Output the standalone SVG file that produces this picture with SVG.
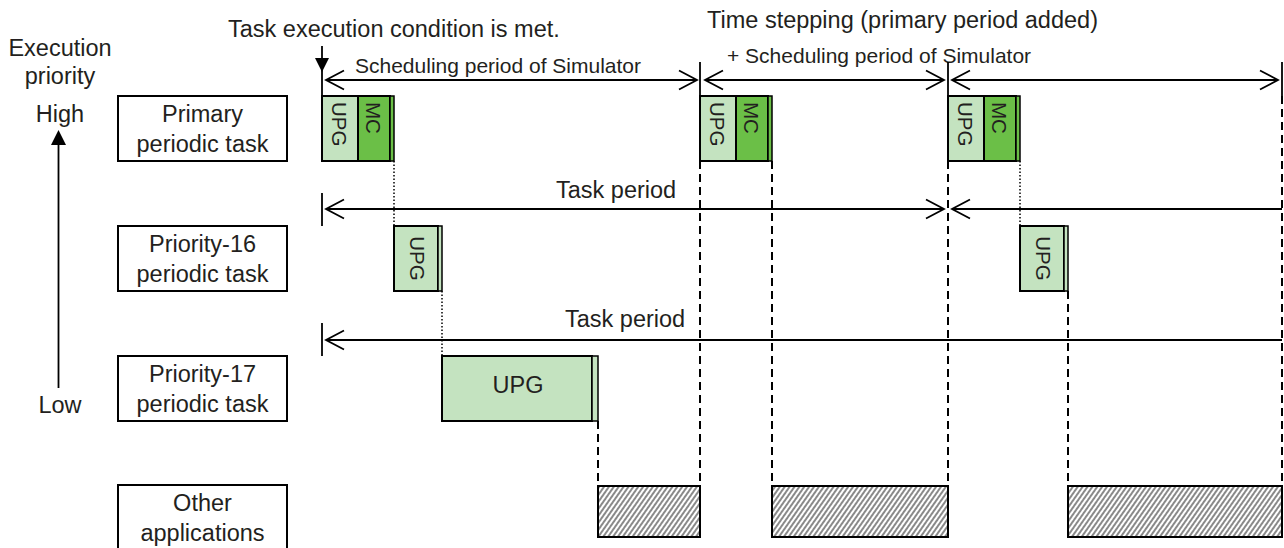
<svg xmlns="http://www.w3.org/2000/svg" width="1284" height="548" viewBox="0 0 1284 548">
<defs>
<pattern id="hatch" width="4" height="4" patternUnits="userSpaceOnUse" patternTransform="rotate(35)">
<rect width="4" height="4" fill="#fff"/>
<line x1="2" y1="0" x2="2" y2="4" stroke="#4a4a4a" stroke-width="1.3"/>
</pattern>
<style>
.t{font-family:"Liberation Sans",Arial,sans-serif;fill:#231f20}
.big{font-size:23.5px}
.mid{font-size:21px}
.sm{font-size:20.5px}
.c{text-anchor:middle}
.box{fill:#fff;stroke:#000;stroke-width:2}
.lg{fill:#c4e3c0;stroke:#000;stroke-width:2}
.dg{fill:#6bbf47;stroke:#000;stroke-width:2}
.lgs{fill:#c4e3c0;stroke:#000;stroke-width:1.5}
.dgs{fill:#6bbf47;stroke:#000;stroke-width:1.5}
.ln{stroke:#000;stroke-width:1.8;fill:none}
.ln2{stroke:#000;stroke-width:2.2;fill:none}
.dash{stroke:#000;stroke-width:2;stroke-dasharray:8 5;fill:none}
.dot{stroke:#000;stroke-width:1.5;stroke-dasharray:1.5 2;fill:none}
.hatch{fill:url(#hatch);stroke:#000;stroke-width:2}
</style>
</defs>
<rect width="1284" height="548" fill="#fff"/>

<!-- priority axis -->
<g id="axis">
<text class="t big c" x="60" y="56">Execution</text>
<text class="t big c" x="60" y="84">priority</text>
<text class="t big c" x="60" y="122">High</text>
<polygon points="58.5,130 51,145 66,145" fill="#000"/>
<line class="ln" x1="58.5" y1="144" x2="58.5" y2="388"/>
<text class="t big c" x="60" y="413">Low</text>
</g>

<!-- row labels -->
<g id="node-primary">
<rect class="box" x="118" y="96" width="169" height="65"/>
<text class="t big c" x="202.5" y="122">Primary</text>
<text class="t big c" x="202.5" y="152">periodic task</text>
</g>
<g id="node-priority16">
<rect class="box" x="118" y="226" width="169" height="65"/>
<text class="t big c" x="202.5" y="252">Priority-16</text>
<text class="t big c" x="202.5" y="282">periodic task</text>
</g>
<g id="node-priority17">
<rect class="box" x="118" y="356" width="169" height="65"/>
<text class="t big c" x="202.5" y="382">Priority-17</text>
<text class="t big c" x="202.5" y="412">periodic task</text>
</g>
<g id="node-other">
<rect class="box" x="118" y="485" width="169" height="66"/>
<text class="t big c" x="202.5" y="511">Other</text>
<text class="t big c" x="202.5" y="541">applications</text>
</g>

<!-- top annotations -->
<g id="annotations">
<text class="t big" x="228" y="37">Task execution condition is met.</text>
<text class="t big" x="707" y="28">Time stepping (primary period added)</text>
<text class="t mid" x="355" y="73">Scheduling period of Simulator</text>
<text class="t mid" x="727" y="63">+ Scheduling period of Simulator</text>
<text class="t big" x="556" y="198">Task period</text>
<text class="t big" x="565" y="327">Task period</text>
</g>

<!-- connectors -->
<g id="connectors">
<line class="ln" x1="322" y1="46" x2="322" y2="96"/>
<polygon points="315,58 329,58 322,72" fill="#000"/>
<line class="ln" x1="326" y1="80" x2="697" y2="80"/>
<polyline class="ln" points="344,70.5 326,80 344,89.5"/>
<polyline class="ln" points="679,70.5 697,80 679,89.5"/>
<line class="ln" x1="700" y1="62" x2="700" y2="96"/>
<line class="ln" x1="705" y1="80" x2="944" y2="80"/>
<polyline class="ln" points="723,70.5 705,80 723,89.5"/>
<polyline class="ln" points="926,70.5 944,80 926,89.5"/>
<line class="ln" x1="948" y1="62" x2="948" y2="96"/>
<line class="ln" x1="952" y1="80" x2="1278" y2="80"/>
<polyline class="ln" points="970,70.5 952,80 970,89.5"/>
<polyline class="ln" points="1260,70.5 1278,80 1260,89.5"/>
<line class="ln" x1="1282" y1="62" x2="1282" y2="96"/>
<line class="ln" x1="322" y1="193" x2="322" y2="226"/>
<line class="ln" x1="326" y1="209" x2="944" y2="209"/>
<polyline class="ln" points="344,199.5 326,209 344,218.5"/>
<polyline class="ln" points="926,199.5 944,209 926,218.5"/>
<line class="ln" x1="952" y1="209" x2="1282" y2="209"/>
<polyline class="ln" points="970,199.5 952,209 970,218.5"/>
<line class="ln" x1="322" y1="323" x2="322" y2="356"/>
<line class="ln2" x1="326" y1="340" x2="1282" y2="340"/>
<polyline class="ln" points="344,330.5 326,340 344,349.5"/>
<line class="dash" x1="700" y1="161" x2="700" y2="486"/>
<line class="dash" x1="772" y1="161" x2="772" y2="486"/>
<line class="dash" x1="948" y1="161" x2="948" y2="486"/>
<line class="dash" x1="1282" y1="96" x2="1282" y2="486"/>
<line class="dash" x1="598" y1="421" x2="598" y2="486"/>
<line class="dash" x1="1068" y1="291" x2="1068" y2="486"/>
<line class="dot" x1="394" y1="161" x2="394" y2="226"/>
<line class="dot" x1="442" y1="291" x2="442" y2="356"/>
<line class="dot" x1="1020" y1="161" x2="1020" y2="226"/>
</g>

<g id="primary-run-1">
<rect class="lg" x="322" y="96" width="36" height="65"/>
<rect class="dg" x="358" y="96" width="32" height="65"/>
<rect class="dgs" x="390" y="96" width="4" height="65"/>
<text class="t sm" transform="translate(339,102) rotate(90)" dominant-baseline="central">UPG</text>
<text class="t sm" transform="translate(373,102) rotate(90)" dominant-baseline="central">MC</text>
</g>
<g id="primary-run-2">
<rect class="lg" x="700" y="96" width="36" height="65"/>
<rect class="dg" x="736" y="96" width="32" height="65"/>
<rect class="dgs" x="768" y="96" width="4" height="65"/>
<text class="t sm" transform="translate(717,102) rotate(90)" dominant-baseline="central">UPG</text>
<text class="t sm" transform="translate(751,102) rotate(90)" dominant-baseline="central">MC</text>
</g>
<g id="primary-run-3">
<rect class="lg" x="948" y="96" width="36" height="65"/>
<rect class="dg" x="984" y="96" width="32" height="65"/>
<rect class="dgs" x="1016" y="96" width="4" height="65"/>
<text class="t sm" transform="translate(965,102) rotate(90)" dominant-baseline="central">UPG</text>
<text class="t sm" transform="translate(999,102) rotate(90)" dominant-baseline="central">MC</text>
</g>

<g id="p16-run-1">
<rect class="lg" x="394" y="226" width="44" height="65"/>
<rect class="lgs" x="438" y="226" width="4" height="65"/>
<text class="t sm c" transform="translate(417,258.5) rotate(90)" dominant-baseline="central">UPG</text>
</g>
<g id="p16-run-2">
<rect class="lg" x="1020" y="226" width="44" height="65"/>
<rect class="lgs" x="1064" y="226" width="4" height="65"/>
<text class="t sm c" transform="translate(1043,258.5) rotate(90)" dominant-baseline="central">UPG</text>
</g>

<g id="p17-run-1">
<rect class="lg" x="442" y="356" width="150" height="65"/>
<rect class="lgs" x="592" y="356" width="6" height="65"/>
<text class="t big c" x="518" y="393">UPG</text>
</g>

<g id="other-run-1"><rect class="hatch" x="598" y="486" width="102" height="51"/></g>
<g id="other-run-2"><rect class="hatch" x="772" y="486" width="176" height="51"/></g>
<g id="other-run-3"><rect class="hatch" x="1068" y="486" width="214" height="51"/></g>
</svg>
